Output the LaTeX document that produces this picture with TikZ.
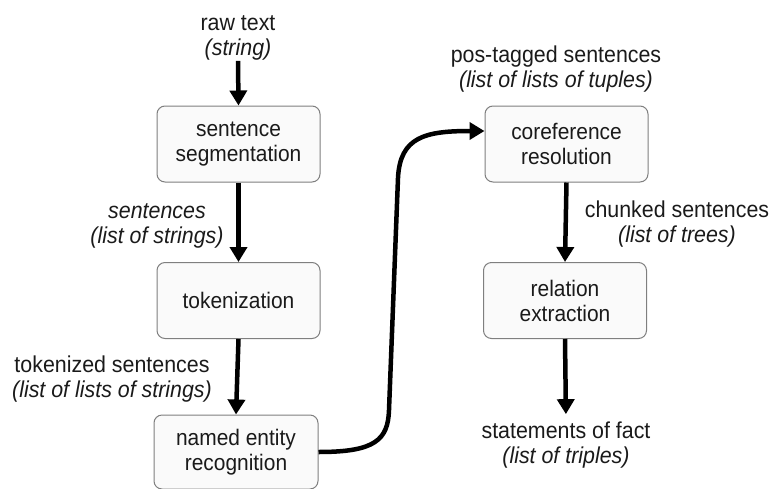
\documentclass[tikz,border=0pt]{standalone}
\usepackage{fontspec}
\setmainfont{Liberation Sans}[FakeStretch=0.93]
\usetikzlibrary{arrows.meta}
\definecolor{boxfill}{HTML}{FAFAFA}
\definecolor{boxdraw}{HTML}{7F7F7F}
\definecolor{ink}{HTML}{1A1A1A}
\begin{document}
\begin{tikzpicture}[x=1pt,y=-1pt,
  stage/.style={draw=boxdraw, fill=boxfill, line width=1pt, rounded corners=8pt,
    minimum width=163pt, minimum height=76pt, align=center, text=ink,
    font=\fontsize{22.5}{25}\selectfont, inner sep=0pt},
  lbl/.style={align=center, text=ink, font=\fontsize{23}{25}\selectfont, inner sep=1pt, anchor=base},
  flow/.style={draw=black, line width=4.5pt, -{Triangle[length=15pt,width=17pt]}}
]
\useasboundingbox (0,0) rectangle (774,488);

\node[stage] (seg) at (238.5,144) {sentence\\segmentation};
\node[stage] (tok) at (238.5,300.5) {tokenization};
\node[stage, minimum width=164pt, minimum height=74pt] (ner) at (236,452) {named entity\\recognition};
\node[stage] (coref) at (566.5,144) {coreference\\resolution};
\node[stage] (rel) at (565,300.5) {relation\\extraction};

% anchor=base is the baseline of the last line
\node[lbl] (raw) at (238,55) {raw text\\\textit{(string)}};
\node[lbl] (sents) at (157,243) {\textit{sentences}\\\textit{(list of strings)}};
\node[lbl] (toks) at (112,397) {tokenized sentences\\\textit{(list of lists of strings)}};
\node[lbl] (pos) at (556,87) {pos-tagged sentences\\\textit{(list of lists of tuples)}};
\node[lbl] (chunk) at (677,242) {chunked sentences\\\textit{(list of trees)}};
\node[lbl] (facts) at (566,463) {statements of fact\\\textit{(list of triples)}};

\coordinate (cin) at ([yshift=13pt]coref.west);

\draw[flow] (raw.south) -- (seg.north);
\draw[flow] (seg.south) -- (tok.north);
\draw[flow] (tok.south) -- (ner.north);
\draw[flow] (ner.east) .. controls (375,452) and (388,440) .. (389,410)
  -- (398,178) .. controls (400,137) and (425,131) .. (cin);
\draw[flow] (coref.south) -- (rel.north);
\draw[flow, shorten >=6pt] (rel.south) -- (facts.north);
\end{tikzpicture}
\end{document}
